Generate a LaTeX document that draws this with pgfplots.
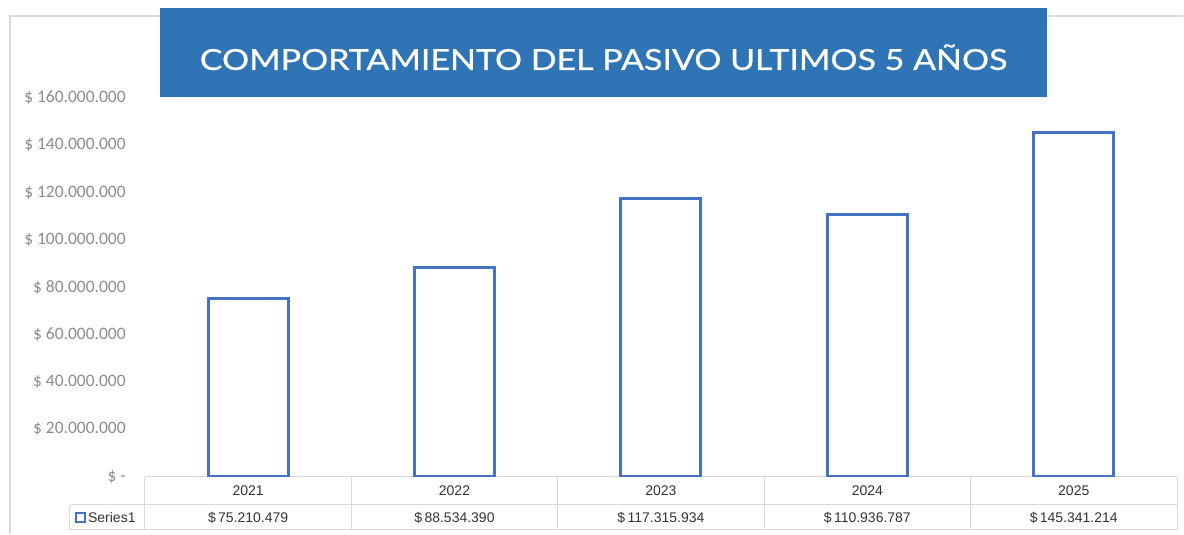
\documentclass[border=0pt]{standalone}
\usepackage{fontspec}
\setmainfont{Liberation Sans}
\newfontfamily\carlito{Carlito}
\newfontfamily\titlefont[FakeBold=0.6]{Lato}
\usepackage{pgfplots}
\pgfplotsset{compat=1.18}
\definecolor{BannerBlue}{HTML}{2F75B5}
\definecolor{BarBlue}{HTML}{4472C4}
\definecolor{GridGray}{HTML}{D9D9D9}
\definecolor{TickGray}{HTML}{8C8C8C}
\definecolor{TableText}{HTML}{333333}

\begin{document}
\begin{tikzpicture}[x=1pt,y=1pt]
% page size, 1 px = 1 pt
\path (-145,-57) rectangle (1039,477);
% outer frame of the chart
\draw[GridGray, line width=2pt] (-135,-57) -- (-135,461) -- (1039,461);
% data table grid
\draw[GridGray, line width=1pt] (0,0) -- (1033,0);
\draw[GridGray, line width=1pt] (-75,-28) -- (1033,-28);
\draw[GridGray, line width=1pt] (-75,-53) -- (1033,-53);
\draw[GridGray, line width=1pt] (-75,-28) -- (-75,-53);
\foreach \x in {0,206.6,413.2,619.8,826.4,1033}
  \draw[GridGray, line width=1pt] (\x,0) -- (\x,-53);

\begin{axis}[
  at={(0,0)}, anchor=south west,
  scale only axis, width=1033pt, height=379pt,
  xmin=-0.5, xmax=4.5, ymin=0, ymax=160000000,
  axis line style={draw=none},
  major tick length=0pt,
  ybar, bar width=80pt,
  xtick={0,1,2,3,4},
  xticklabels={{2021\\\$\,75.210.479},{2022\\\$\,88.534.390},{2023\\\$\,117.315.934},{2024\\\$\,110.936.787},{2025\\\$\,145.341.214}},
  x tick label style={font=\fontsize{14}{27}\selectfont, text=TableText, align=center, inner sep=0pt, anchor=north, yshift=-9pt},
  ytick={0,20000000,40000000,60000000,80000000,100000000,120000000,140000000,160000000},
  yticklabels={{\$ -\hspace{8pt}},{\$ 20.000.000},{\$ 40.000.000},{\$ 60.000.000},{\$ 80.000.000},{\$ 100.000.000},{\$ 120.000.000},{\$ 140.000.000},{\$ 160.000.000}},
  y tick label style={font=\carlito\fontsize{17.5}{17.5}\selectfont, text=TickGray, anchor=east, inner sep=0pt, xshift=-19pt},
  scaled y ticks=false,
]
\addplot[draw=BarBlue, line width=3pt, fill=white] coordinates {
  (0,75210479) (1,88534390) (2,117315934) (3,110936787) (4,145341214)
};
\end{axis}

% legend key of the data table
\draw[BarBlue, line width=2pt, fill=white] (-69,-36) rectangle (-60,-45);
\node[anchor=west, inner sep=0pt, text=TableText, font=\fontsize{14}{14}\selectfont] at (-57,-41) {Series1};

% title banner
\fill[BannerBlue] (15,380) rectangle (903,469);
\node[anchor=base, inner sep=0pt, text=white] at (459,407)
  {\resizebox{808pt}{\height}{\titlefont\fontsize{29}{29}\selectfont COMPORTAMIENTO DEL PASIVO ULTIMOS 5 AÑOS}};
\end{tikzpicture}
\end{document}
